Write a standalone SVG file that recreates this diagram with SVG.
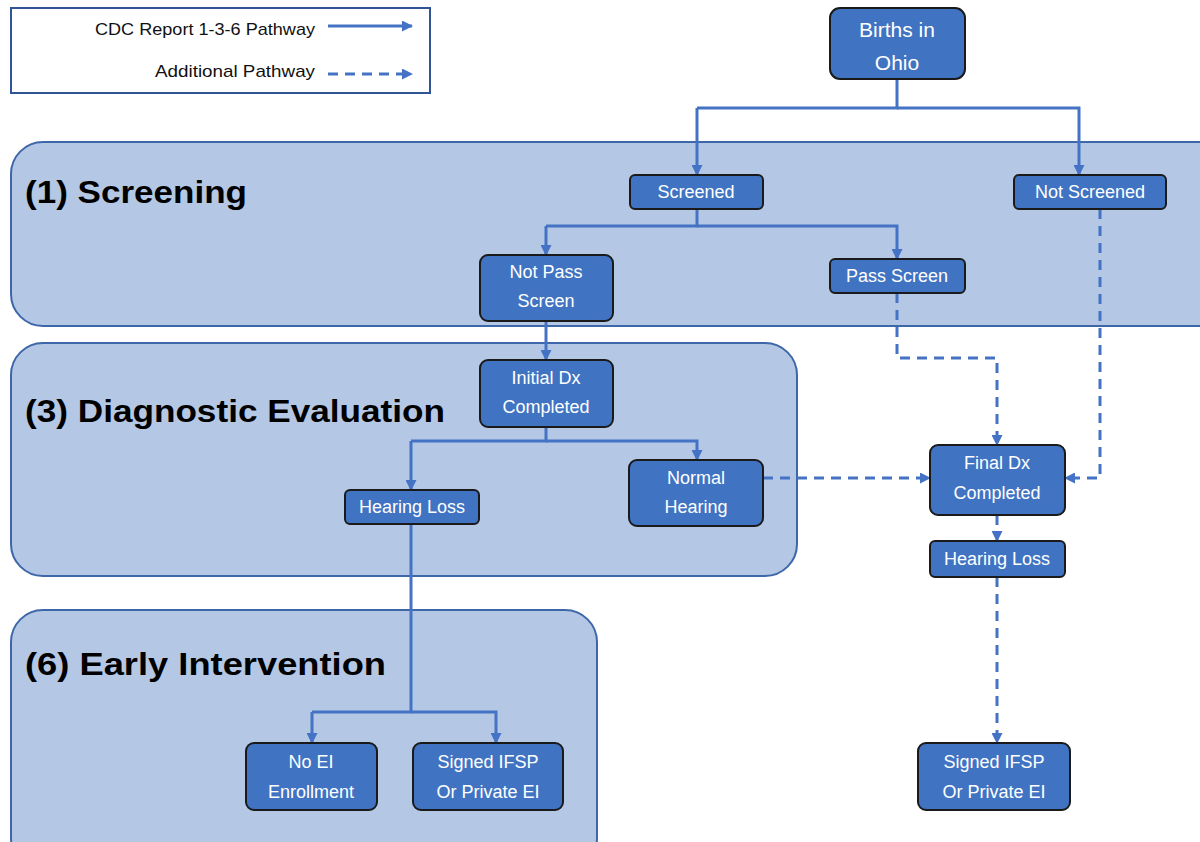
<svg xmlns="http://www.w3.org/2000/svg" width="1200" height="842" viewBox="0 0 1200 842">
<defs>
<marker id="ah" markerWidth="11" markerHeight="11" refX="10" refY="5.5" orient="auto" markerUnits="userSpaceOnUse">
<path d="M0,0 L11,5.5 L0,11 Z" fill="#4472c4"/>
</marker>
<style>
.panel{fill:#b4c7e4;stroke:#3d67a8;stroke-width:2}
.node{fill:#4074c2;stroke:#1a1a1a;stroke-width:2}
.nt{font-family:"Liberation Sans",Arial,sans-serif;font-size:18px;fill:#ffffff;text-anchor:middle}
.title{font-family:"Liberation Sans",Arial,sans-serif;font-size:32px;font-weight:bold;fill:#000}
.leg{font-family:"Liberation Sans",Arial,sans-serif;font-size:17px;fill:#111}
.solid{fill:none;stroke:#4472c4;stroke-width:3;marker-end:url(#ah)}
.solidn{fill:none;stroke:#4472c4;stroke-width:3}
.dash{fill:none;stroke:#4472c4;stroke-width:3;stroke-dasharray:10,7;marker-end:url(#ah)}
</style>
</defs>
<rect width="1200" height="842" fill="#ffffff"/>

<g id="legend">
<rect x="11" y="8" width="419" height="85" fill="#fff" stroke="#2f5597" stroke-width="2"/>
<text class="leg" x="95" y="35" textLength="220" lengthAdjust="spacingAndGlyphs">CDC Report 1-3-6 Pathway</text>
<text class="leg" x="155" y="77" textLength="160" lengthAdjust="spacingAndGlyphs">Additional Pathway</text>
<path class="solid" d="M328,26 H412"/>
<path class="dash" d="M328,74 H412"/>
</g>

<g id="panel-screening">
<rect class="panel" x="11" y="142" width="1220" height="184" rx="32"/>
<text class="title" x="25" y="203" textLength="222" lengthAdjust="spacingAndGlyphs">(1) Screening</text>
</g>
<g id="panel-diagnostic">
<rect class="panel" x="11" y="343" width="786" height="233" rx="32"/>
<text class="title" x="25" y="422" textLength="420" lengthAdjust="spacingAndGlyphs">(3) Diagnostic Evaluation</text>
</g>
<g id="panel-ei">
<rect class="panel" x="11" y="610" width="586" height="260" rx="32"/>
<text class="title" x="25" y="675" textLength="361" lengthAdjust="spacingAndGlyphs">(6) Early Intervention</text>
</g>

<g id="connectors">
<path class="solidn" d="M897,79 V108 H697"/>
<path class="solid" d="M697,108 V175"/>
<path class="solid" d="M897,108 H1079 V175"/>
<path class="solidn" d="M697,209 V226 H546"/>
<path class="solid" d="M546,226 V255"/>
<path class="solid" d="M697,226 H897 V259"/>
<path class="solid" d="M546,321 V360"/>
<path class="solidn" d="M546,427 V441 H411"/>
<path class="solid" d="M411,441 V490"/>
<path class="solid" d="M546,441 H697 V460"/>
<path class="solidn" d="M411,524 V712 H312"/>
<path class="solid" d="M312,712 V743"/>
<path class="solid" d="M411,712 H496 V743"/>
<path class="dash" d="M897,293 V358 H997 V445"/>
<path class="dash" d="M1100,209 V478 H1065"/>
<path class="dash" d="M763,478 H930"/>
<path class="dash" d="M997,515 V541"/>
<path class="dash" d="M997,577 V743"/>
</g>

<g id="births">
<rect class="node" x="830" y="8" width="135" height="71" rx="10"/>
<text class="nt" x="897" y="37" style="font-size:21px">Births in</text>
<text class="nt" x="897" y="70" style="font-size:21px">Ohio</text>
</g>
<g id="screened">
<rect class="node" x="630" y="175" width="133" height="34" rx="5"/>
<text class="nt" x="696" y="198">Screened</text>
</g>
<g id="not-screened">
<rect class="node" x="1014" y="175" width="152" height="34" rx="5"/>
<text class="nt" x="1090" y="198">Not Screened</text>
</g>
<g id="not-pass">
<rect class="node" x="480" y="255" width="133" height="66" rx="8"/>
<text class="nt" x="546" y="278">Not Pass</text>
<text class="nt" x="546" y="307">Screen</text>
</g>
<g id="pass">
<rect class="node" x="830" y="259" width="135" height="34" rx="5"/>
<text class="nt" x="897" y="282">Pass Screen</text>
</g>
<g id="initial-dx">
<rect class="node" x="480" y="360" width="133" height="67" rx="8"/>
<text class="nt" x="546" y="384">Initial Dx</text>
<text class="nt" x="546" y="413">Completed</text>
</g>
<g id="normal-hearing">
<rect class="node" x="629" y="460" width="134" height="66" rx="8"/>
<text class="nt" x="696" y="484">Normal</text>
<text class="nt" x="696" y="513">Hearing</text>
</g>
<g id="hearing-loss-1">
<rect class="node" x="345" y="490" width="134" height="34" rx="5"/>
<text class="nt" x="412" y="513">Hearing Loss</text>
</g>
<g id="final-dx">
<rect class="node" x="930" y="445" width="135" height="70" rx="8"/>
<text class="nt" x="997" y="469">Final Dx</text>
<text class="nt" x="997" y="499">Completed</text>
</g>
<g id="hearing-loss-2">
<rect class="node" x="930" y="541" width="135" height="36" rx="5"/>
<text class="nt" x="997" y="565">Hearing Loss</text>
</g>
<g id="no-ei">
<rect class="node" x="246" y="743" width="131" height="67" rx="8"/>
<text class="nt" x="311" y="768">No EI</text>
<text class="nt" x="311" y="798">Enrollment</text>
</g>
<g id="ifsp-1">
<rect class="node" x="413" y="743" width="150" height="67" rx="8"/>
<text class="nt" x="488" y="768">Signed IFSP</text>
<text class="nt" x="488" y="798">Or Private EI</text>
</g>
<g id="ifsp-2">
<rect class="node" x="918" y="743" width="152" height="67" rx="8"/>
<text class="nt" x="994" y="768">Signed IFSP</text>
<text class="nt" x="994" y="798">Or Private EI</text>
</g>
</svg>
